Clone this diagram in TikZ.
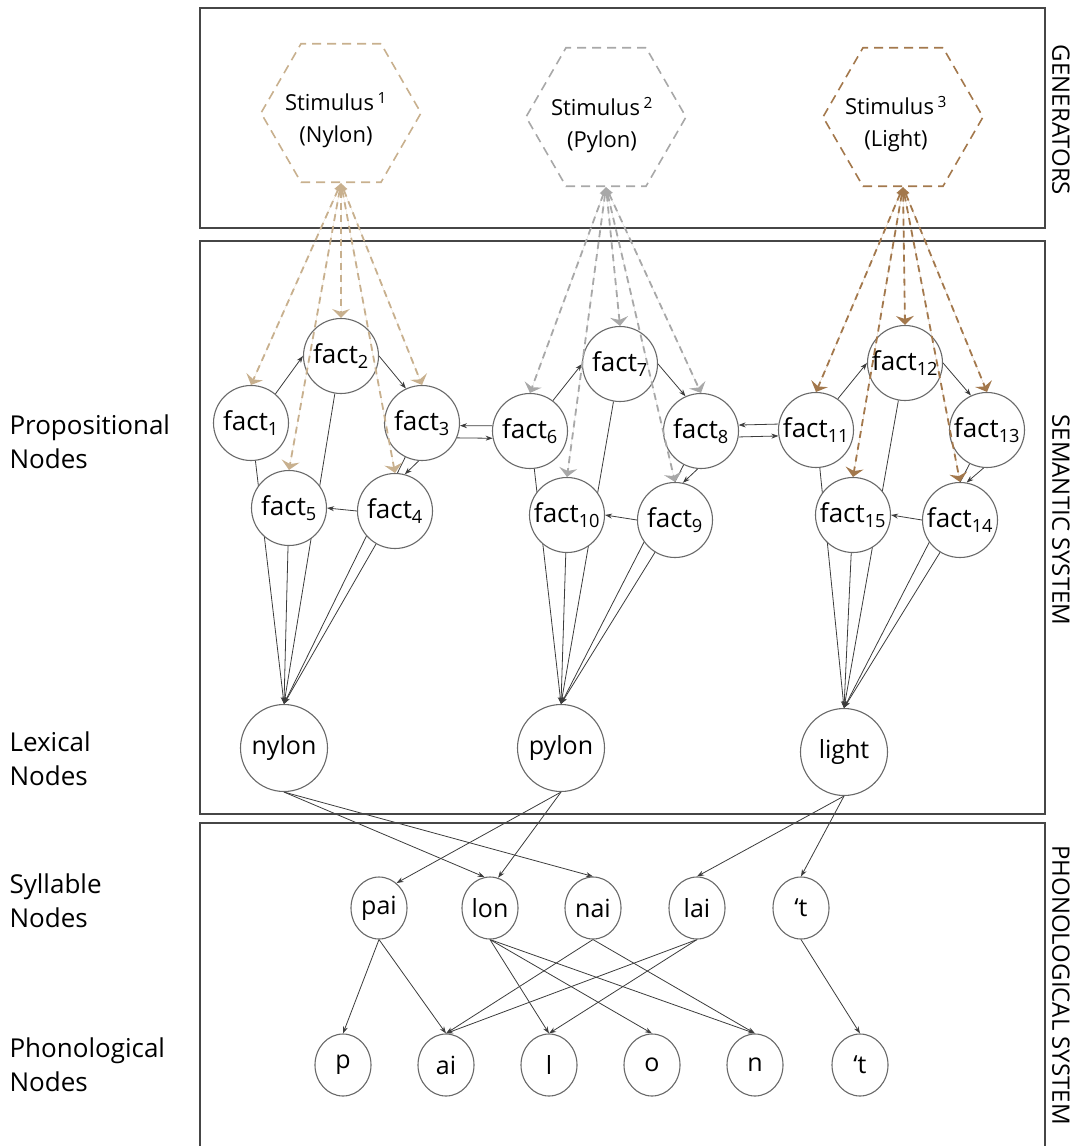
\documentclass[tikz,border=0pt]{standalone}
\usepackage{fontspec}
\setmainfont{Open Sans}
\usetikzlibrary{shapes.geometric,arrows.meta}
\pgfdeclarelayer{bg}
\pgfsetlayers{bg,main}
\definecolor{gtan}{RGB}{200,176,142}
\definecolor{ggray}{RGB}{168,168,168}
\definecolor{gbrown}{RGB}{163,120,76}
\definecolor{edgec}{RGB}{60,60,60}
\definecolor{rimc}{RGB}{105,105,105}
\definecolor{boxc}{RGB}{70,70,70}
\tikzset{
  factnode/.style={circle,draw=rimc,line width=1.1pt,fill=white,minimum size=75pt,inner sep=0pt,font=\fontsize{26}{30}\selectfont},
  lexnode/.style={circle,draw=rimc,line width=1.1pt,fill=white,minimum size=87pt,inner sep=0pt,font=\fontsize{25}{30}\selectfont},
  sylnode/.style={ellipse,draw=rimc,line width=1.1pt,fill=white,minimum width=56pt,minimum height=62pt,inner sep=0pt,font=\fontsize{25}{30}\selectfont},
  hexnode/.style={regular polygon,regular polygon sides=6,minimum size=160pt,inner sep=0pt,dash pattern=on 9pt off 6pt,line width=1.6pt},
  fan/.style={dash pattern=on 7pt off 5pt,line width=1.8pt,arrows={Triangle[width=7pt,length=8pt]-Stealth[width=18pt,length=9pt,inset=3pt]}},
  sol/.style={draw=edgec,line width=0.8pt,-{Stealth[length=7pt,width=5pt]}},
  boxline/.style={draw=boxc,line width=1.2pt},
  sidelabel/.style={anchor=west,align=left,font=\fontsize{26}{34}\selectfont},
  syslabel/.style={rotate=-90,font=\fontsize{24}{30}\selectfont},
  stimtext/.style={align=center,font=\fontsize{22}{32}\selectfont}
}
\begin{document}
\begin{tikzpicture}[x=1pt,y=-1pt]
\useasboundingbox (0,0) rectangle (1077,1146);
% boxes
\draw[boxline] (200,8) rectangle (1045,228);
\draw[boxline] (200,241) rectangle (1045,814);
\draw[boxline] (200,823) rectangle (1045,1170);
% side labels
\node[syslabel] (lgen) at (1061,120) {GENERATORS};
\node[syslabel] (lsem) at (1061,520) {SEMANTIC SYSTEM};
\node[syslabel] (lpho) at (1061,985) {PHONOLOGICAL SYSTEM};
\node[sidelabel] (lprop) at (6,442) {Propositional\\Nodes};
\node[sidelabel] (llex) at (6,759) {Lexical\\Nodes};
\node[sidelabel] (lsyl) at (6,901) {Syllable\\Nodes};
\node[sidelabel] (lphn) at (6,1065) {Phonological\\Nodes};
% generators
\node[hexnode,draw=gtan] (h1) at (341,113) {};
\node[hexnode,draw=ggray] (h2) at (606,117) {};
\node[hexnode,draw=gbrown] (h3) at (903,117) {};
\node[stimtext] (s1) at (336,120) {Stimulus\,\textsuperscript{1}\\(Nylon)};
\node[stimtext] (s2) at (602,125) {Stimulus\,\textsuperscript{2}\\(Pylon)};
\node[stimtext] (s3) at (896,124) {Stimulus\,\textsuperscript{3}\\(Light)};
% facts
\node[factnode] (f1) at (251,423) {fact\textsubscript{1}};
\node[factnode] (f2) at (341,356) {fact\textsubscript{2}};
\node[factnode] (f3) at (422,423) {fact\textsubscript{3}};
\node[factnode] (f4) at (395,511) {fact\textsubscript{4}};
\node[factnode] (f5) at (289,508) {fact\textsubscript{5}};
\node[factnode] (f6) at (530,431) {fact\textsubscript{6}};
\node[factnode] (f7) at (620,364) {fact\textsubscript{7}};
\node[factnode] (f8) at (701,431) {fact\textsubscript{8}};
\node[factnode] (f9) at (675,520) {fact\textsubscript{9}};
\node[factnode] (f10) at (567,515) {fact\textsubscript{10}};
\node[factnode] (f11) at (816,430) {fact\textsubscript{11}};
\node[factnode] (f12) at (905,363) {fact\textsubscript{12}};
\node[factnode] (f13) at (987,430) {fact\textsubscript{13}};
\node[factnode] (f14) at (960,520) {fact\textsubscript{14}};
\node[factnode] (f15) at (853,515) {fact\textsubscript{15}};
% lexical
\node[lexnode] (nylon) at (284,748) {nylon};
\node[lexnode] (pylon) at (561,748) {pylon};
\node[lexnode] (light) at (844,752) {light};
% syllables
\node[sylnode] (pai) at (379,908) {pai};
\node[sylnode] (lon) at (490,908) {lon};
\node[sylnode] (nai) at (593,908) {nai};
\node[sylnode] (lai) at (697,908) {lai};
\node[sylnode] (t1) at (801,908) {‘t};
% phonemes
\node[sylnode] (p) at (343,1065) {p};
\node[sylnode] (ai) at (446,1065) {ai};
\node[sylnode] (l) at (549,1065) {l};
\node[sylnode] (o) at (652,1065) {o};
\node[sylnode] (n) at (755,1065) {n};
\node[sylnode] (t2) at (860,1065) {‘t};
% edges behind nodes
\begin{pgfonlayer}{bg}
\foreach \f in {f1,f2,f3,f4,f5} \draw[sol] (\f) -- (nylon.north);
\foreach \f in {f6,f7,f8,f9,f10} \draw[sol] (\f) -- (pylon.north);
\foreach \f in {f11,f12,f13,f14,f15} \draw[sol] (\f) -- (light.north);
\draw[sol] (f1.50) -- (f2.west);
\draw[sol] (f2.east) -- (f3.115);
\draw[sol] (f3.265) -- (f4.75);
\draw[sol] (f4.west) -- (f5.east);
\draw[sol] (f6.172) -- (f3.356);
\draw[sol] (f3.337) -- (f6.191);
\draw[sol] (f6.53) -- (f7.west);
\draw[sol] (f7.east) -- (f8.114);
\draw[sol] (f8.265) -- (f9.78);
\draw[sol] (f9.west) -- (f10.east);
\draw[sol] (f11.171) -- (f8.9);
\draw[sol] (f8.351) -- (f11.189);
\draw[sol] (f11.55) -- (f12.west);
\draw[sol] (f12.east) -- (f13.115);
\draw[sol] (f13.265) -- (f14.80);
\draw[sol] (f14.west) -- (f15.east);
% lexical to syllable
\draw[sol] (nylon.south) -- (lon.100);
\draw[sol] (nylon.south) -- (nai.north);
\draw[sol] (pylon.south) -- (pai.55);
\draw[sol] (pylon.south) -- (lon.75);
\draw[sol] (light.south) -- (lai.north);
\draw[sol] (light.south) -- (t1.north);
% syllable to phoneme
\draw[sol] (pai.south) -- (p.north);
\draw[sol] (pai.south) -- (ai.north);
\draw[sol] (lon.south) -- (l.north);
\draw[sol] (lon.south) -- (o.north);
\draw[sol] (lon.south) -- (n.north);
\draw[sol] (nai.south) -- (ai.north);
\draw[sol] (nai.south) -- (n.north);
\draw[sol] (lai.south) -- (ai.north);
\draw[sol] (lai.south) -- (l.north);
\draw[sol] (t1.south) -- (t2.north);
\end{pgfonlayer}
% generator fans
\foreach \f in {f1,f2,f3,f4,f5} \draw[fan,draw=gtan,fill=gtan] (h1.south) -- (\f.north);
\foreach \f in {f6,f7,f8,f9,f10} \draw[fan,draw=ggray,fill=ggray] (h2.south) -- (\f.north);
\foreach \f in {f11,f12,f13,f14,f15} \draw[fan,draw=gbrown,fill=gbrown] (h3.south) -- (\f.north);
\end{tikzpicture}
\end{document}
